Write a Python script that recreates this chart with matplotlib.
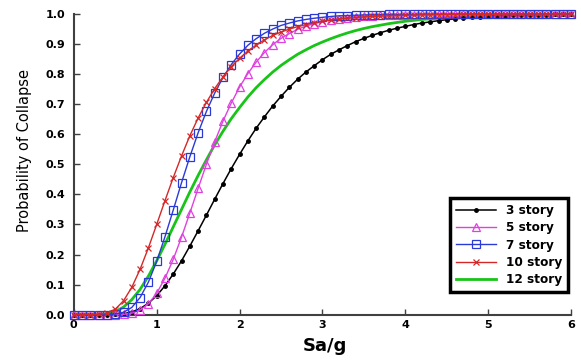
import matplotlib
matplotlib.use("Agg")
import matplotlib.pyplot as plt

# spectral acceleration grid (Sa/g)
sa = [0.0, 0.1, 0.2, 0.3, 0.4, 0.5, 0.6, 0.7, 0.8, 0.9,
      1.0, 1.1, 1.2, 1.3, 1.4, 1.5, 1.6, 1.7, 1.8, 1.9,
      2.0, 2.1, 2.2, 2.3, 2.4, 2.5, 2.6, 2.7, 2.8, 2.9,
      3.0, 3.1, 3.2, 3.3, 3.4, 3.5, 3.6, 3.7, 3.8, 3.9,
      4.0, 4.1, 4.2, 4.3, 4.4, 4.5, 4.6, 4.7, 4.8, 4.9,
      5.0, 5.1, 5.2, 5.3, 5.4, 5.5, 5.6, 5.7, 5.8, 5.9, 6.0]

# probability of collapse
story3 = [0, 0, 0, 0, 0.000, 0.001, 0.003, 0.009, 0.020, 0.038,
          0.063, 0.096, 0.135, 0.179, 0.228, 0.279, 0.331, 0.384, 0.436, 0.486,
          0.533, 0.578, 0.620, 0.658, 0.694, 0.726, 0.756, 0.783, 0.807, 0.828,
          0.848, 0.866, 0.881, 0.895, 0.908, 0.919, 0.929, 0.938, 0.946, 0.953,
          0.959, 0.965, 0.970, 0.974, 0.978, 0.981, 0.984, 0.987, 0.989, 0.991,
          0.993, 0.994, 0.995, 0.996, 0.997, 0.997, 0.998, 0.998, 0.999, 0.999, 0.999]
story5 = [0, 0, 0, 0, 0, 0.000, 0.001, 0.005, 0.015, 0.036,
          0.071, 0.121, 0.184, 0.258, 0.338, 0.420, 0.500, 0.575, 0.644, 0.704,
          0.757, 0.802, 0.840, 0.872, 0.898, 0.919, 0.935, 0.949, 0.960, 0.968,
          0.975, 0.981, 0.985, 0.988, 0.991, 0.993, 0.994, 0.996, 0.997, 0.997,
          0.998, 0.998, 0.999, 0.999, 0.999, 0.999, 1.0, 1.0, 1.0, 1.0,
          1.0, 1.0, 1.0, 1.0, 1.0, 1.0, 1.0, 1.0, 1.0, 1.0, 1.0]
story7 = [0, 0, 0, 0, 0.000, 0.002, 0.008, 0.024, 0.057, 0.108,
          0.177, 0.259, 0.348, 0.439, 0.525, 0.605, 0.676, 0.737, 0.789, 0.832,
          0.867, 0.896, 0.918, 0.936, 0.950, 0.962, 0.970, 0.977, 0.982, 0.986,
          0.989, 0.992, 0.994, 0.995, 0.996, 0.997, 0.998, 0.998, 0.999, 0.999,
          0.999, 0.999, 1.0, 1.0, 1.0, 1.0, 1.0, 1.0, 1.0, 1.0,
          1.0, 1.0, 1.0, 1.0, 1.0, 1.0, 1.0, 1.0, 1.0, 1.0, 1.0]
story10 = [0, 0, 0, 0.001, 0.005, 0.018, 0.046, 0.091, 0.151, 0.222,
           0.300, 0.379, 0.456, 0.528, 0.595, 0.654, 0.706, 0.752, 0.791, 0.825,
           0.853, 0.877, 0.897, 0.914, 0.929, 0.940, 0.950, 0.958, 0.965, 0.971,
           0.976, 0.980, 0.983, 0.986, 0.988, 0.990, 0.992, 0.993, 0.994, 0.995,
           0.996, 0.996, 0.997, 0.997, 0.998, 0.998, 0.998, 0.999, 0.999, 0.999,
           0.999, 0.999, 1.0, 1.0, 1.0, 1.0, 1.0, 1.0, 1.0, 1.0, 1.0]
story12 = [0, 0, 0, 0.000, 0.003, 0.010, 0.025, 0.050, 0.084, 0.128,
           0.179, 0.234, 0.292, 0.350, 0.408, 0.463, 0.515, 0.565, 0.610, 0.652,
           0.689, 0.724, 0.755, 0.782, 0.807, 0.829, 0.848, 0.866, 0.881, 0.895,
           0.907, 0.918, 0.928, 0.937, 0.945, 0.952, 0.958, 0.963, 0.968, 0.972,
           0.976, 0.979, 0.982, 0.984, 0.986, 0.988, 0.990, 0.991, 0.992, 0.993,
           0.994, 0.995, 0.996, 0.996, 0.997, 0.997, 0.998, 0.998, 0.999, 0.999, 0.999]

xticks = [0, 1, 2, 3, 4, 5, 6]
yticks = [0.0, 0.1, 0.2, 0.3, 0.4, 0.5, 0.6, 0.7, 0.8, 0.9, 1.0]

fig = plt.figure(figsize=(5.81, 3.6), dpi=100)
ax = fig.add_axes([0.127, 0.126, 0.856, 0.835])

ax.plot(sa, story12, color='#18C418', lw=2.0, label='12 story', zorder=2, clip_on=False)
ax.plot(sa, story3, color='black', marker='o', ms=2.5, lw=1.1, label='3 story', zorder=3, clip_on=False)
ax.plot(sa, story5, color='#E040E0', marker='^', mfc='none', ms=6, mew=0.9, lw=1.0,
        label='5 story', zorder=4, clip_on=False)
ax.plot(sa, story7, color='#2A3AD6', marker='s', mfc='none', ms=5.2, mew=0.9, lw=1.0,
        label='7 story', zorder=5, clip_on=False)
ax.plot(sa, story10, color='#D42828', marker='x', ms=4.2, mew=0.9, lw=1.0,
        label='10 story', zorder=6, clip_on=False)

ax.set_xlim(0, 6)
ax.set_ylim(0, 1)
ax.set_xticks(xticks)
ax.set_yticks(yticks)
ax.set_xticklabels([str(t) for t in xticks], fontweight='bold', fontsize=8)
ax.set_yticklabels(['%.1f' % t for t in yticks], fontweight='bold', fontsize=8)
ax.tick_params(direction='in', length=4, width=1, color='#404040', pad=6)
ax.tick_params(axis='x', pad=4)

for s in ['top', 'right']:
    ax.spines[s].set_visible(False)
for s in ['left', 'bottom']:
    ax.spines[s].set_color('#404040')
    ax.spines[s].set_linewidth(1.5)

fig.text(25 / 581, 1 - 150 / 360, 'Probability of Collapse', rotation=90,
         ha='center', va='center', fontsize=10.5, fontweight='medium')
fig.text(325 / 581, 1 - 346 / 360, 'Sa/g', ha='center', va='center',
         fontsize=13, fontweight='bold')

handles, labels = ax.get_legend_handles_labels()
order = [1, 2, 3, 4, 0]
leg = ax.legend([handles[i] for i in order], [labels[i] for i in order],
                loc='lower right', bbox_to_anchor=(0.994, 0.075), borderaxespad=0,
                numpoints=1, handlelength=3.3, fancybox=False, framealpha=1,
                prop={'weight': 'bold', 'size': 8.7}, borderpad=0.5,
                labelspacing=0.35, handletextpad=0.8)
leg.get_frame().set_edgecolor('black')
leg.get_frame().set_linewidth(2.5)

fig.savefig('out.png', dpi=100)
